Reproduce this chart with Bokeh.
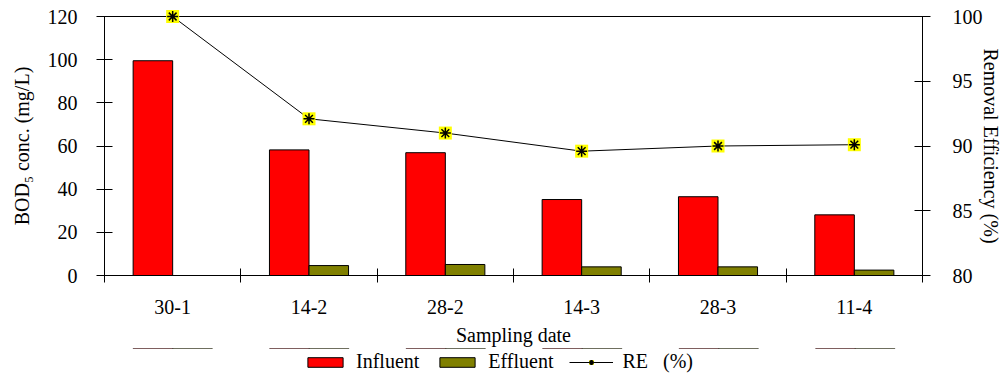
import numpy as np
from bokeh.plotting import figure
from bokeh.layouts import column
from bokeh.models import (Range1d, LinearAxis, FixedTicker, Legend, LegendItem,
                          ColumnDataSource)
from bokeh.embed import file_html
from bokeh.resources import INLINE

dates = ["30-1", "14-2", "28-2", "14-3", "28-3", "11-4"]
influent = [99.5, 58.2, 56.9, 35.2, 36.5, 28.1]
effluent = [0.0, 4.6, 5.1, 4.0, 4.0, 2.5]
removal = [100.0, 92.1, 91.0, 89.6, 90.0, 90.1]

FONT = "Liberation Serif"
RED, OLIVE, YELLOW = "#FF0000", "#808000", "#FFFF00"
n = len(dates)
centers = np.arange(n) + 0.5
bounds = list(np.arange(n + 1).astype(float))
bw = 0.29

src = ColumnDataSource(dict(x=centers, xi=centers - bw / 2, xe=centers + bw / 2,
                            inf=influent, eff=effluent, re=removal))

p = figure(frame_width=818, frame_height=259, output_backend="svg",
           toolbar_location=None,
           x_range=Range1d(0, n), y_range=Range1d(0, 120),
           min_border_left=104, min_border_right=76, min_border_top=16,
           min_border_bottom=0)
p.extra_y_ranges = {"re": Range1d(80, 100)}
p.xgrid.visible = False
p.ygrid.visible = False
p.outline_line_color = "black"
p.outline_line_width = 1
p.background_fill_color = "white"
p.border_fill_color = "white"

p.vbar(x="xi", top="inf", width=bw, source=src, fill_color=RED,
       line_color="black", line_width=1)
p.vbar(x="xe", top="eff", width=bw, source=src, fill_color=OLIVE,
       line_color="black", line_width=1)
p.line(x="x", y="re", source=src, y_range_name="re", line_color="black", line_width=1)
p.scatter(x="x", y="re", source=src, y_range_name="re", marker="square",
          size=13, fill_color=YELLOW, line_color=None, level="overlay")
p.scatter(x="x", y="re", source=src, y_range_name="re", marker="asterisk",
          size=11, line_color="black", line_width=1.5, level="overlay")

# x axis
xa = p.xaxis[0]
xa.ticker = FixedTicker(ticks=list(centers), minor_ticks=bounds)
xa.major_label_overrides = {float(c): d for c, d in zip(centers, dates)}
xa.major_tick_in = 0
xa.major_tick_out = 0
xa.minor_tick_in = 7
xa.minor_tick_out = 7
xa.minor_tick_line_color = "black"
xa.major_label_standoff = 17
xa.axis_label = "Sampling date"
xa.axis_label_standoff = 7

# left axis
ya = p.yaxis[0]
ya.ticker = FixedTicker(ticks=[0, 20, 40, 60, 80, 100, 120])
ya.major_tick_in = 8
ya.major_tick_out = 8
ya.minor_tick_line_color = None
ya.major_label_standoff = 19
ya.axis_label = "BOD\u2085 conc. (mg/L)"
ya.axis_label_standoff = 12

# right axis
ra = LinearAxis(y_range_name="re", ticker=FixedTicker(ticks=[80, 85, 90, 95, 100]),
                axis_label="Removal Efficiency (%)")
ra.major_tick_in = 8
ra.major_tick_out = 8
ra.minor_tick_line_color = None
ra.major_label_standoff = 22
ra.axis_label_standoff = -6
p.add_layout(ra, "right")

for ax in [xa, ya, ra]:
    ax.axis_line_color = "black"
    ax.axis_line_width = 1
    ax.major_tick_line_color = "black" if ax is not xa else None
    ax.major_label_text_font = FONT
    ax.major_label_text_font_size = "20px"
    ax.major_label_text_color = "black"
    ax.axis_label_text_font = FONT
    ax.axis_label_text_font_size = "20px"
    ax.axis_label_text_font_style = "normal"
    ax.axis_label_text_color = "black"

# legend strip below the chart: same glyph styles, same data, kept out of view
lg = figure(width=1005, height=31, output_backend="svg", toolbar_location=None,
            min_border=0, x_range=Range1d(0, n), y_range=Range1d(-2, -1))
lg.axis.visible = False
lg.xgrid.visible = False
lg.ygrid.visible = False
lg.outline_line_color = None
lg.background_fill_alpha = 0
lg.border_fill_alpha = 0
l_inf = lg.vbar(x="xi", top="inf", width=bw, source=src, fill_color=RED,
                line_color="black", line_width=1)
l_eff = lg.vbar(x="xe", top="eff", width=bw, source=src, fill_color=OLIVE,
                line_color="black", line_width=1)
l_line = lg.line(x="x", y="re", source=src, line_color="black", line_width=1)
l_sq = lg.scatter(x="x", y="re", source=src, marker="square", size=13,
                  fill_color=YELLOW, line_color=None)
l_ast = lg.scatter(x="x", y="re", source=src, marker="asterisk", size=11,
                   line_color="black", line_width=1.5)

legend = Legend(items=[
    LegendItem(label="Influent", renderers=[l_inf]),
    LegendItem(label="Effluent", renderers=[l_eff]),
    LegendItem(label="RE   (%)", renderers=[l_line, l_sq, l_ast]),
], orientation="horizontal", location=(199, 6))
legend.label_text_font = FONT
legend.label_text_font_size = "20px"
legend.label_text_color = "black"
legend.glyph_width = 44
legend.glyph_height = 12
legend.label_standoff = 9
legend.spacing = 16
legend.padding = 0
legend.margin = 0
legend.border_line_color = None
legend.background_fill_alpha = 0
lg.add_layout(legend, "center")

layout = column(p, lg, spacing=0)
open("out.html", "w").write(file_html(layout, INLINE))
